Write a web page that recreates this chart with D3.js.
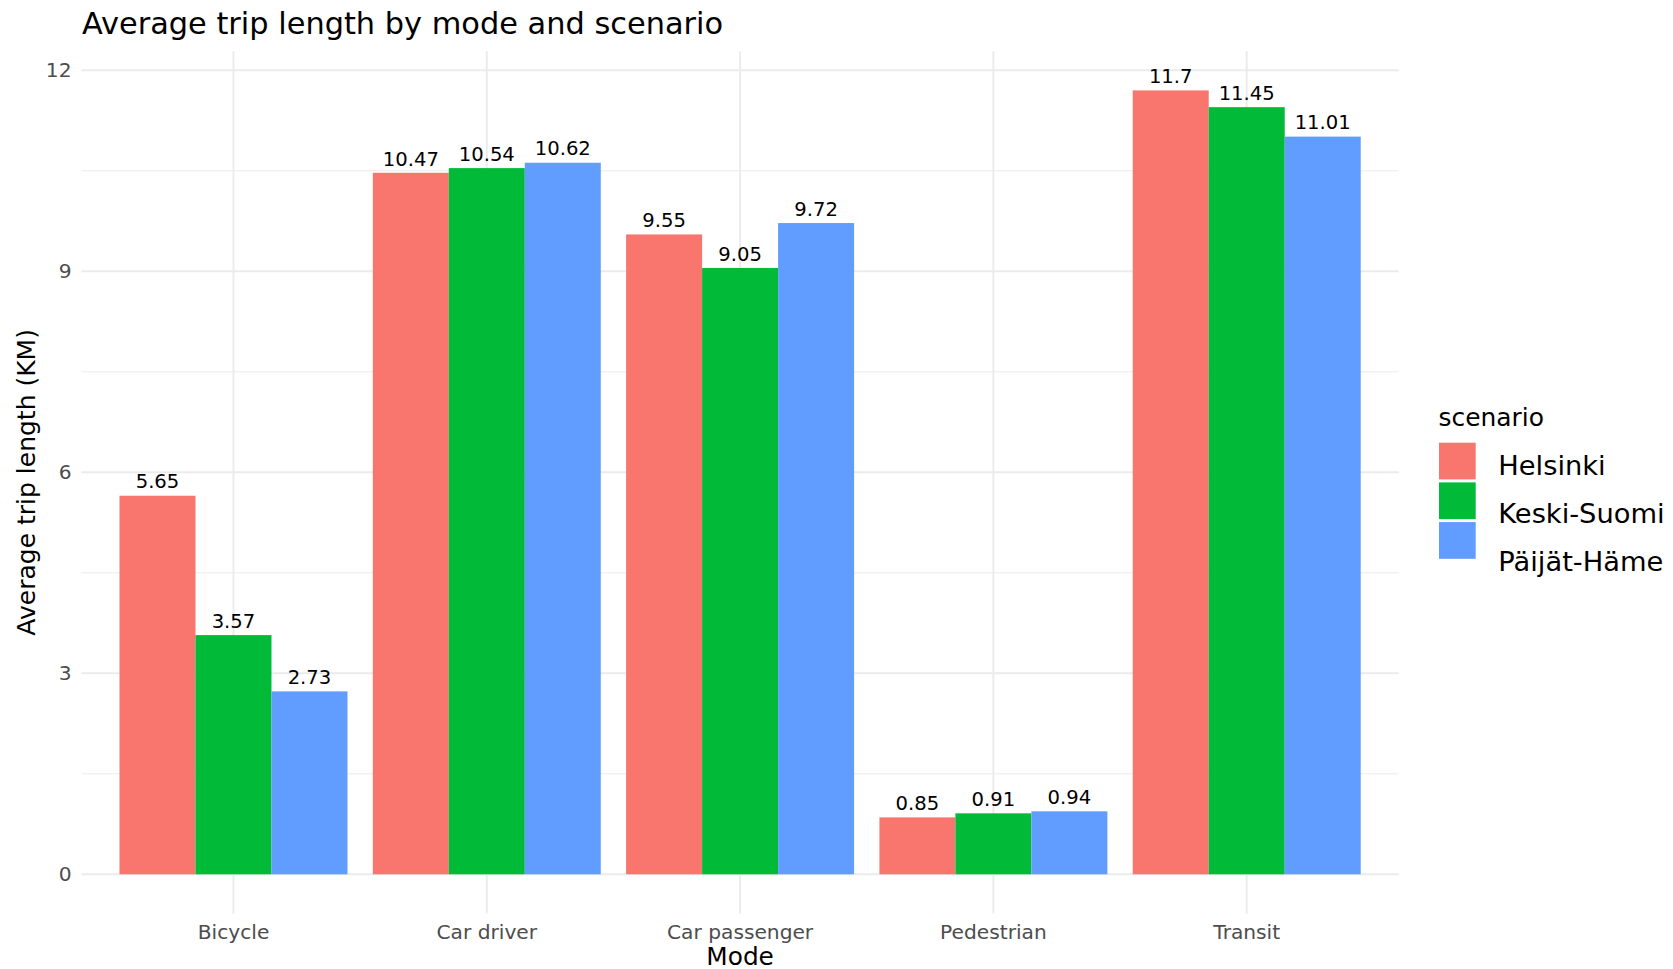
<!DOCTYPE html>
<html>
<head>
<meta charset="utf-8">
<script src="https://cdn.jsdelivr.net/npm/d3@7"></script>
<style>
  html, body { margin: 0; padding: 0; background: #fff; }
  svg { display: block; font-family: "DejaVu Sans", sans-serif; }
</style>
</head>
<body>
<svg id="chart" width="1673" height="969"></svg>
<script>
const modes = ["Bicycle", "Car driver", "Car passenger", "Pedestrian", "Transit"];
const scenarios = ["Helsinki", "Keski-Suomi", "Päijät-Häme"];
const helsinki = [5.65, 10.47, 9.55, 0.85, 11.7];
const keskiSuomi = [3.57, 10.54, 9.05, 0.91, 11.45];
const paijatHame = [2.73, 10.62, 9.72, 0.94, 11.01];
const colors = ["#F8766D", "#00BA38", "#619CFF"];
const yMajorTicks = [0, 3, 6, 9, 12];
const yMinorTicks = [1.5, 4.5, 7.5, 10.5];

const seriesValues = [helsinki, keskiSuomi, paijatHame];
const data = [];
modes.forEach((m, i) => scenarios.forEach((s, j) => data.push({ mode: m, scenario: s, value: seriesValues[j][i] })));

const svg = d3.select("#chart");
const pLeft = 81.5, pRight = 1398.7, pTop = 51.2, pBottom = 913.5;

const maxV = d3.max(data, d => d.value);
const pad = maxV * 0.05;
const y = d3.scaleLinear().domain([-pad, maxV + pad]).range([pBottom, pTop]);
const x0 = d3.scaleBand().domain(modes).range([pLeft, pRight]).paddingInner(0.1).paddingOuter(0.15);
const x1 = d3.scaleBand().domain(scenarios).range([0, x0.bandwidth()]).padding(0);
const color = d3.scaleOrdinal().domain(scenarios).range(colors);

// grid
const grid = svg.append("g");
grid.selectAll("line.minor").data(yMinorTicks).join("line").attr("class", "minor")
  .attr("x1", pLeft).attr("x2", pRight)
  .attr("y1", d => y(d)).attr("y2", d => y(d))
  .attr("stroke", "#EBEBEB").attr("stroke-width", 1);
grid.selectAll("line.majory").data(yMajorTicks).join("line").attr("class", "majory")
  .attr("x1", pLeft).attr("x2", pRight)
  .attr("y1", d => y(d)).attr("y2", d => y(d))
  .attr("stroke", "#EBEBEB").attr("stroke-width", 1.9);
grid.selectAll("line.majorx").data(modes).join("line").attr("class", "majorx")
  .attr("x1", d => x0(d) + x0.bandwidth() / 2).attr("x2", d => x0(d) + x0.bandwidth() / 2)
  .attr("y1", pTop).attr("y2", pBottom)
  .attr("stroke", "#EBEBEB").attr("stroke-width", 1.9);

// bars
svg.append("g").selectAll("rect").data(data).join("rect")
  .attr("x", d => x0(d.mode) + x1(d.scenario))
  .attr("width", x1.bandwidth())
  .attr("y", d => y(d.value))
  .attr("height", d => y(0) - y(d.value))
  .attr("fill", d => color(d.scenario));

// value labels
svg.append("g").selectAll("text").data(data).join("text")
  .attr("x", d => x0(d.mode) + x1(d.scenario) + x1.bandwidth() / 2)
  .attr("y", d => y(d.value) - 7.3)
  .attr("text-anchor", "middle")
  .attr("font-size", "19.6px")
  .attr("fill", "#000")
  .text(d => d.value);

// axes
const yAxis = svg.append("g").attr("transform", `translate(${pLeft},0)`)
  .call(d3.axisLeft(y).tickValues(yMajorTicks).tickSize(0).tickPadding(10));
yAxis.select(".domain").remove();
yAxis.selectAll("text").attr("font-size", "20.2px").attr("fill", "#4D4D4D").attr("font-family", "DejaVu Sans");

const xAxis = svg.append("g").attr("transform", `translate(0,${pBottom})`)
  .call(d3.axisBottom(x0).tickSize(0).tickPadding(11.5));
xAxis.select(".domain").remove();
xAxis.selectAll("text").attr("font-size", "20.2px").attr("fill", "#4D4D4D").attr("font-family", "DejaVu Sans");

// titles
svg.append("text").attr("x", 82).attr("y", 34).attr("font-size", "30.4px").attr("fill", "#000")
  .text("Average trip length by mode and scenario");
svg.append("text").attr("x", (pLeft + pRight) / 2).attr("y", 965).attr("text-anchor", "middle")
  .attr("font-size", "24.8px").attr("fill", "#000").text("Mode");
svg.append("text").attr("transform", `translate(34.5,${(pTop + pBottom) / 2}) rotate(-90)`)
  .attr("text-anchor", "middle").attr("font-size", "25px").attr("fill", "#000")
  .text("Average trip length (KM)");

// legend
const lg = svg.append("g");
lg.append("text").attr("x", 1438.5).attr("y", 426).attr("font-size", "24.9px").attr("fill", "#000").text("scenario");
lg.selectAll("rect").data(scenarios).join("rect")
  .attr("x", 1439).attr("y", (d, i) => 442.7 + i * 39.7)
  .attr("width", 36.7).attr("height", 36.7)
  .attr("fill", d => color(d));
lg.selectAll("text.lab").data(scenarios).join("text").attr("class", "lab")
  .attr("x", 1498.3).attr("y", (d, i) => 475 + i * 48)
  .attr("font-size", "27.3px").attr("fill", "#000")
  .text(d => d);
</script>
</body>
</html>
